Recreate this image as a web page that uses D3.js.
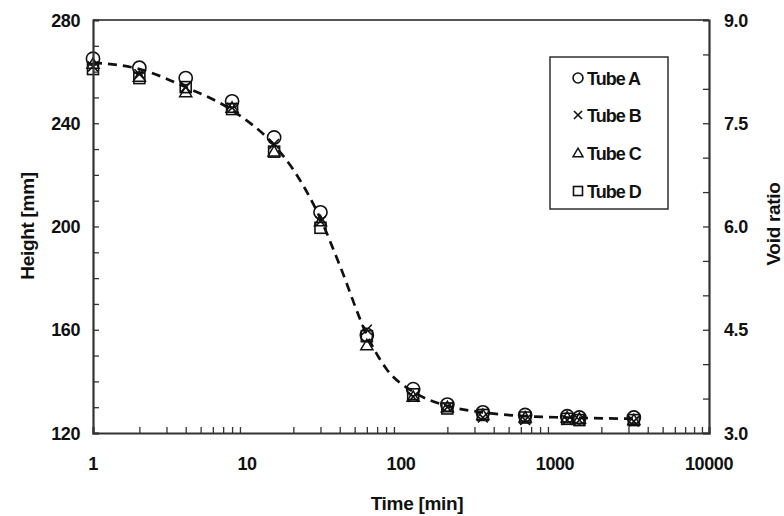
<!DOCTYPE html>
<html>
<head>
<meta charset="utf-8">
<script src="https://cdn.jsdelivr.net/npm/d3@7"></script>
<style>
html,body{margin:0;padding:0;background:#fff;}
svg{display:block;}
text{font-family:"Liberation Sans",Arial,sans-serif;font-weight:bold;fill:#111;}
</style>
</head>
<body>
<svg id="chart" width="784" height="516"></svg>
<script>
// ---- data ----
const times = [1, 2, 4, 8, 15, 30, 60, 120, 200, 340, 640, 1200, 1440, 3250];
const tubeA = [265, 261.5, 257.5, 248.5, 234.5, 205.5, 158, 137, 131, 128, 127, 126.5, 126, 126];
const tubeB = [262, 259, 254, 246, 232, 202, 160, 134, 130, 126, 125, 125, 125, 124.5];
const tubeC = [263, 258, 252, 246, 229, 202, 154, 134, 130, 127, 126, 126, 125.5, 125];
const tubeD = [261, 257.5, 254, 245.5, 229, 199.5, 157.5, 135, 129.5, 127, 126, 125.5, 125, 125];
const fitTimes = [1, 2, 4, 8, 15, 20, 30, 40, 60, 80, 120, 200, 340, 640, 1200, 3250];
const fitHeight = [263.5, 261, 254, 245, 231.5, 222, 203, 185, 158, 145, 136, 130.5, 128, 126.5, 126, 125.5];
const seriesNames = ["Tube A", "Tube B", "Tube C", "Tube D"];
const seriesSymbols = ["circle", "cross", "triangle", "square"];
const xTickValues = [1, 10, 100, 1000, 10000];
const yTickValues = [120, 160, 200, 240, 280];
const y2TickValues = [3.0, 4.5, 6.0, 7.5, 9.0];

// ---- layout ----
const L = 93, R = 709, T = 20, B = 433;
const svg = d3.select("#chart");
const x = d3.scaleLog().domain([1, 10000]).range([L, R]);
const y = d3.scaleLinear().domain([120, 280]).range([B, T]);
const y2 = d3.scaleLinear().domain([3.0, 9.0]).range([B, T]);

const axisColor = "#333";

// line (fit)
const line = d3.line().x((d, i) => x(fitTimes[i])).y(d => y(d)).curve(d3.curveMonotoneX);
svg.append("path").datum(fitHeight)
  .attr("d", line).attr("fill", "none").attr("stroke", "#111")
  .attr("stroke-width", 2.7).attr("stroke-dasharray", "9,6");

// markers
function drawSymbol(g, type, cx, cy, s) {
  if (type === "circle") {
    g.append("circle").attr("cx", cx).attr("cy", cy).attr("r", s * 0.55)
      .attr("fill", "none").attr("stroke", "#111").attr("stroke-width", 1.6);
  } else if (type === "square") {
    g.append("rect").attr("x", cx - s * 0.5).attr("y", cy - s * 0.5).attr("width", s).attr("height", s)
      .attr("fill", "none").attr("stroke", "#111").attr("stroke-width", 1.6);
  } else if (type === "triangle") {
    const h = s * 0.9;
    g.append("path").attr("d", `M${cx},${cy - h * 0.6}L${cx + s * 0.55},${cy + h * 0.45}L${cx - s * 0.55},${cy + h * 0.45}Z`)
      .attr("fill", "none").attr("stroke", "#111").attr("stroke-width", 1.5);
  } else if (type === "cross") {
    const a = s * 0.45;
    g.append("path").attr("d", `M${cx - a},${cy - a}L${cx + a},${cy + a}M${cx - a},${cy + a}L${cx + a},${cy - a}`)
      .attr("fill", "none").attr("stroke", "#111").attr("stroke-width", 1.6);
  }
}
const allSeries = [tubeA, tubeB, tubeC, tubeD];
const markG = svg.append("g");
[3, 2, 1, 0].forEach(si => {
  allSeries[si].forEach((v, i) => {
    drawSymbol(markG, seriesSymbols[si], x(times[i]), y(v), si === 0 ? 12 : 11);
  });
});

// frame
svg.append("line").attr("x1", L).attr("x2", R).attr("y1", T).attr("y2", T)
  .attr("stroke", "#555").attr("stroke-width", 2);

// axes
const xMinor = [];
for (let d = 1; d < 10000; d *= 10) for (let k = 2; k <= 9; k++) xMinor.push(d * k);
const gx = svg.append("g").attr("transform", `translate(0,${B})`)
  .call(d3.axisBottom(x).tickValues(xMinor).tickSize(-6).tickFormat(""));
gx.select(".domain").attr("stroke", axisColor).attr("stroke-width", 2.2);
gx.selectAll(".tick line").attr("stroke", axisColor).attr("stroke-width", 1.3);

svg.append("g").selectAll("text").data(xTickValues).join("text")
  .attr("x", d => x(d)).attr("y", 470).attr("text-anchor", "middle")
  .attr("font-size", 18).attr("letter-spacing", -0.4).text(d => d);

const yMinor = d3.range(120, 281, 10);
const gy = svg.append("g").attr("transform", `translate(${L},0)`)
  .call(d3.axisLeft(y).tickValues(yMinor).tickSize(-6).tickFormat(""));
gy.select(".domain").attr("stroke", axisColor).attr("stroke-width", 2.2);
gy.selectAll(".tick line").attr("stroke", axisColor).attr("stroke-width", 1.3);
svg.append("g").selectAll("text").data(yTickValues).join("text")
  .attr("x", 80).attr("y", d => y(d) + 6.5).attr("text-anchor", "end")
  .attr("font-size", 18).attr("letter-spacing", -0.4).text(d => d);

const y2Minor = d3.range(3.0, 9.01, 0.5);
const gy2 = svg.append("g").attr("transform", `translate(${R},0)`)
  .call(d3.axisRight(y2).tickValues(y2Minor).tickSize(-6).tickFormat(""));
gy2.select(".domain").attr("stroke", axisColor).attr("stroke-width", 2.2);
gy2.selectAll(".tick line").attr("stroke", axisColor).attr("stroke-width", 1.3);
svg.append("g").selectAll("text").data(y2TickValues).join("text")
  .attr("x", 724).attr("y", d => y2(d) + 6.5).attr("text-anchor", "start")
  .attr("font-size", 18).attr("letter-spacing", -0.4).text(d => d3.format(".1f")(d));

// titles
svg.append("text").attr("x", 417).attr("y", 510).attr("text-anchor", "middle")
  .attr("font-size", 19).attr("letter-spacing", -0.3).text("Time [min]");
svg.append("text").attr("transform", "translate(34,226) rotate(-90)").attr("text-anchor", "middle")
  .attr("font-size", 19).attr("letter-spacing", -0.3).text("Height [mm]");
svg.append("text").attr("transform", "translate(780,224) rotate(-90)").attr("text-anchor", "middle")
  .attr("font-size", 19).attr("letter-spacing", -0.3).text("Void ratio");

// legend
const lg = svg.append("g");
lg.append("rect").attr("x", 550).attr("y", 57).attr("width", 118).attr("height", 152)
  .attr("fill", "#fff").attr("stroke", "#222").attr("stroke-width", 1.4);
const legY = [78, 115, 153, 191];
seriesNames.forEach((n, i) => {
  drawSymbol(lg, seriesSymbols[i], 578, legY[i], 9);
  lg.append("text").attr("x", 587).attr("y", legY[i] + 6.5).attr("font-size", 18)
    .attr("letter-spacing", -1).text(n);
});
</script>
</body>
</html>
